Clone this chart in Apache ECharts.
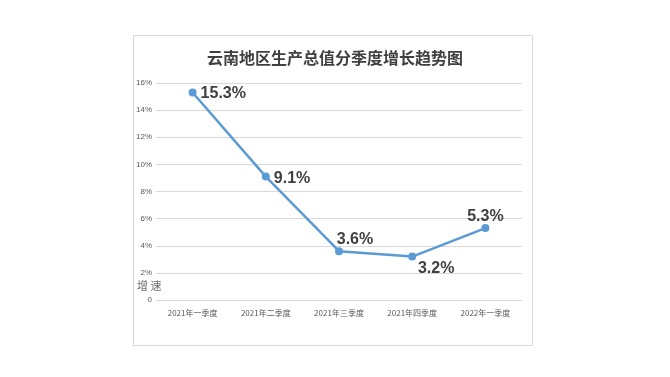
<!DOCTYPE html>
<html><head><meta charset="utf-8">
<script src="https://cdn.jsdelivr.net/npm/echarts@6/dist/echarts.min.js"></script>
<style>html,body{margin:0;padding:0;background:#fff}#c{width:670px;height:377px}</style>
</head><body><div id="c"></div>
<script>
const title = '云南地区生产总值分季度增长趋势图';
const categories = ['2021年一季度','2021年二季度','2021年三季度','2021年四季度','2022年一季度'];
const growth = [15.3, 9.1, 3.6, 3.2, 5.3];
const yTicks = [0,2,4,6,8,10,12,14,16];
const yName = '增速';

const labelCfg = [
  {position:'right', offset:[0,1]},
  {position:'right', offset:[0,2]},
  {position:'top', offset:[16,4]},
  {position:'bottom', offset:[24,-4]},
  {position:'top', offset:[0,4]}
];

const chart = echarts.init(document.getElementById('c'));
chart.setOption({
  animation:false,
  title:{text:title,left:'center',top:45,textStyle:{fontFamily:'Noto Sans CJK SC',fontWeight:'bold',fontSize:16,color:'#404040'}},
  graphic:[
    {type:'rect',shape:{x:133.5,y:35.5,width:399,height:310},style:{fill:'none',stroke:'#d9d9d9',lineWidth:1}},
    {type:'text',left:137,top:280,style:{text:'增 速',fontFamily:'Noto Sans CJK SC',fontSize:11,fill:'#6b6b6b'}}
  ],
  grid:{left:156,right:148,top:83,bottom:77},
  xAxis:{type:'category',data:categories,boundaryGap:true,
    axisLine:{lineStyle:{color:'#d9d9d9'}},axisTick:{show:false},
    axisLabel:{color:'#595959',fontSize:8,fontFamily:'Noto Sans CJK SC',margin:9}},
  yAxis:{type:'value',min:yTicks[0],max:yTicks[yTicks.length-1],interval:2,
    axisLine:{show:false},axisTick:{show:false},
    splitLine:{lineStyle:{color:'#d9d9d9'}},
    axisLabel:{color:'#595959',fontSize:8,fontFamily:'Liberation Sans',margin:4,padding:[4,0,0,0],
      formatter:v=>v===0?'0':v+'%'}},
  series:[{type:'line',data:growth.map((v,i)=>({value:v,label:labelCfg[i]})),
    symbol:'circle',symbolSize:8,
    lineStyle:{color:'#5b9bd5',width:2.5},itemStyle:{color:'#5b9bd5'},
    label:{show:true,formatter:p=>p.value.toFixed(1)+'%',fontFamily:'Liberation Sans',fontWeight:'bold',fontSize:16,color:'#404040',distance:4}}]
});
</script></body></html>
